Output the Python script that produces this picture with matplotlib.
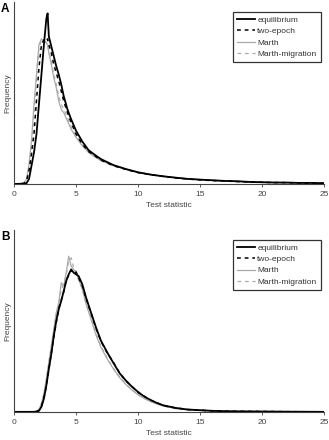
import numpy as np
import matplotlib
matplotlib.use("Agg")
import matplotlib.pyplot as plt

plt.rcParams['font.family'] = ['Liberation Sans', 'DejaVu Sans']

# panel A data (frequency in arbitrary units)
xa = [0, 0.8, 1.0, 1.2, 1.4, 1.6, 1.8, 2.0, 2.2, 2.4, 2.6, 2.7, 2.8, 3.0, 3.2, 3.4,
      3.6, 3.8, 4.0, 4.3, 4.6, 5.0, 5.5, 6.0, 6.5, 7, 8, 9, 10, 11, 12, 13, 14, 15,
      16, 17, 18, 19, 20, 21, 22, 23, 24, 25]
eq_a = [0, 0, 2, 15, 55, 95, 150, 240, 330, 420, 500, 515, 445, 415, 385, 355,
        330, 300, 265, 225, 195, 160, 128, 102, 88, 75, 57, 45, 35, 28, 23, 19, 15, 13,
        11, 9, 8, 6, 5, 4, 4, 3, 3, 2]
two_a = [0, 2, 10, 40, 90, 150, 250, 350, 420, 435, 430, 438, 420, 395, 360, 335,
         310, 280, 250, 215, 185, 150, 120, 98, 85, 72, 55, 44, 34, 28, 23, 18, 15, 12,
         10, 9, 7, 6, 5, 4, 4, 3, 2, 2]
marth_a = [0, 3, 15, 60, 130, 240, 330, 420, 438, 430, 425, 420, 395, 360, 320, 290,
           250, 225, 215, 190, 165, 140, 115, 95, 82, 70, 55, 44, 35, 29, 23, 19, 16, 13,
           11, 9, 8, 6, 5, 5, 4, 3, 3, 2]
mig_a = [0, 2, 12, 50, 110, 210, 320, 410, 435, 432, 428, 418, 400, 370, 330, 300,
         265, 240, 225, 200, 172, 145, 118, 97, 84, 72, 56, 45, 36, 29, 24, 19, 16, 13,
         11, 9, 8, 7, 5, 5, 4, 3, 3, 2]

# panel B data
xb = [0, 1.6, 1.8, 2.0, 2.2, 2.4, 2.6, 2.8, 3.0, 3.2, 3.4, 3.6, 3.8, 4.0, 4.2, 4.4,
      4.6, 4.8, 5.0, 5.2, 5.5, 5.8, 6.2, 6.6, 7.0, 7.5, 8, 8.5, 9, 9.5, 10, 10.5, 11,
      11.5, 12, 13, 14, 15, 16, 17, 18, 20, 22, 25]
eq_b = [0, 0, 1, 3, 15, 40, 80, 130, 175, 230, 275, 310, 335, 365, 395, 415,
        430, 420, 415, 410, 385, 345, 300, 255, 215, 180, 148, 117, 95, 76, 60, 46, 36,
        27, 20, 12, 7, 5, 3, 2, 1.5, 1, 0.5, 0]
two_b = [0, 0, 1, 4, 17, 42, 78, 128, 178, 225, 270, 312, 338, 362, 398, 412,
         428, 418, 422, 405, 380, 342, 298, 252, 213, 178, 150, 118, 93, 77, 58, 47, 35,
         28, 19, 12, 7, 5, 3, 2, 1.5, 1, 0.5, 0]
marth_b = [0, 0, 2, 6, 25, 55, 100, 150, 200, 250, 300, 330, 390, 380, 420, 470,
           440, 430, 420, 400, 370, 325, 280, 232, 195, 160, 130, 104, 83, 66, 51, 40, 31,
           24, 18, 10, 6, 4, 3, 2, 1.5, 1, 0.5, 0]
mig_b = [0, 0, 2, 5, 22, 52, 95, 145, 195, 245, 292, 325, 370, 385, 415, 455,
         465, 435, 425, 398, 372, 328, 284, 236, 198, 163, 132, 106, 85, 67, 52, 41, 32,
         25, 18, 10, 6, 4, 3, 2, 1.5, 1, 0.5, 0]

labels = ["equilibrium", "two-epoch", "Marth", "Marth-migration"]
styles = [dict(color="black", lw=1.3, ls="-"),
          dict(color="black", lw=1.1, ls=(0, (2.5, 2.5))),
          dict(color="#aaaaaa", lw=0.9, ls="-"),
          dict(color="#aaaaaa", lw=0.9, ls=(0, (3, 3)))]

fig = plt.figure(figsize=(3.29, 4.40), dpi=100)
panels = [("A", [0.043, 0.582, 0.942, 0.414], xa, [eq_a, two_a, marth_a, mig_a]),
          ("B", [0.043, 0.064, 0.942, 0.414], xb, [eq_b, two_b, marth_b, mig_b])]

for letter, rect, x, series in panels:
    ax = fig.add_axes(rect)
    # gray ones first so black sits on top
    for i in [3, 2, 1, 0]:
        ax.plot(x, series[i], label=labels[i], **styles[i])
    ax.set_xlim(0, 25)
    ax.set_ylim(0, 550)
    ax.set_xticks([0, 5, 10, 15, 20, 25])
    ax.set_yticks([])
    ax.tick_params(axis="x", labelsize=6, length=2, width=0.6, pad=3, colors="#444444")
    for s in ["top", "right"]:
        ax.spines[s].set_visible(False)
    for s in ["left", "bottom"]:
        ax.spines[s].set_linewidth(0.8)
        ax.spines[s].set_color("#444444")
    ax.set_xlabel("Test statistic", fontsize=6, labelpad=3, color="#444444")
    ax.set_ylabel("Frequency", fontsize=6, labelpad=2, color="#444444")
    h, l = ax.get_legend_handles_labels()
    leg = ax.legend(h[::-1], l[::-1], loc="upper right", bbox_to_anchor=(0.99, 0.945),
                    fontsize=6, frameon=True, fancybox=False, handlelength=2.1,
                    handletextpad=0.3, borderpad=0.55, labelspacing=0.4, borderaxespad=0)
    leg.get_frame().set_edgecolor("black")
    leg.get_frame().set_linewidth(0.9)
    for t in leg.get_texts():
        t.set_color("#333333")
    fig.text(0.003, rect[1] + rect[3] - 0.003, letter, fontsize=8.5, fontweight="bold",
             va="top", ha="left")

fig.savefig("out.png", dpi=100)
